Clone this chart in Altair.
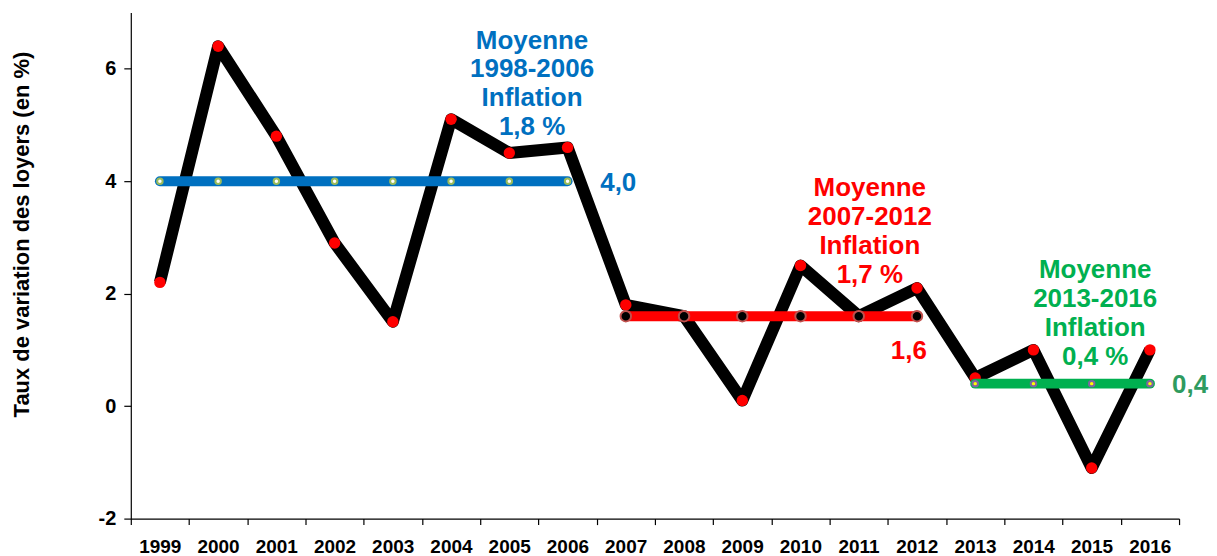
import altair as alt
import pandas as pd

# ---- data ----
years = list(range(1999, 2017))
rent_change = [2.2, 6.4, 4.8, 2.9, 1.5, 5.1, 4.5, 4.6, 1.8, 1.6, 0.1, 2.5, 1.6, 2.1, 0.5, 1.0, -1.1, 1.0]

period_start = [1999, 2007, 2013]
period_end = [2006, 2012, 2016]
period_mean = [4.0, 1.6, 0.4]
period_label = ["1998-2006", "2007-2012", "2013-2016"]
period_inflation = ["1,8 %", "1,7 %", "0,4 %"]
mean_text = ["4,0", "1,6", "0,4"]

# annotation anchors (data units; first text line)
title_x = [2005.39, 2011.19, 2015.06]
title_y = [6.50, 3.876, 2.418]
value_x = [2006.87, 2011.86, 2016.69]
value_y = [3.96, 0.98, 0.38]

# ---- styles ----
FONT = "Liberation Sans"
line_colors = ["#0070C0", "#FF0000", "#00B050"]
value_colors = ["#0070C0", "#FF0000", "#2E9B5F"]
marker_fill = ["#FFFFFF", "#000000", "#FFFF00"]
marker_stroke = ["#9BBB59", "#C0504D", "#8064A2"]
marker_size = [30, 110, 30]

df = pd.DataFrame({"year": years, "value": rent_change})

x_scale = alt.Scale(domain=[1998.5, 2016.5], nice=False, zero=False)
y_scale = alt.Scale(domain=[-2, 7], nice=False, zero=False)

x_axis = alt.Axis(
    values=[y - 0.5 for y in years] + [years[-1] + 0.5],
    labelExpr="datum.value < 2016 ? format(datum.value + 0.5, 'd') : ''",
    labelOffset=29,
    labelPadding=13,
    tickSize=6,
    grid=False,
    title=None,
    labelFontSize=19,
    labelOverlap=False,
    labelFlush=False,
)
y_axis = alt.Axis(
    values=[-2, 0, 2, 4, 6],
    labelExpr="datum.value < 0 ? '-' + format(-datum.value, 'd') : format(datum.value, 'd')",
    tickSize=7,
    labelPadding=8,
    grid=False,
    title="Taux de variation des loyers  (en %)",
    titleFontSize=22,
    titleX=-109,
    titleY=222,
    titleAngle=270,
    titleAlign="center",
    titleBaseline="middle",
    labelFontSize=20,
)

X = alt.X("year:Q", scale=x_scale, axis=x_axis)
Y = alt.Y("value:Q", scale=y_scale, axis=y_axis)

main_line = alt.Chart(df).mark_line(
    color="black", strokeWidth=12, strokeJoin="round"
).encode(x=X, y=Y)

main_pts = alt.Chart(df).mark_circle(color="#FF0000", size=130, opacity=1).encode(
    x=alt.X("year:Q", scale=x_scale), y=alt.Y("value:Q", scale=y_scale)
)

layers = [main_line, main_pts]

for i in range(3):
    yrs = [y for y in years if period_start[i] <= y <= period_end[i]]
    dm = pd.DataFrame({"year": yrs, "value": [period_mean[i]] * len(yrs)})
    layers.append(
        alt.Chart(dm).mark_line(color=line_colors[i], strokeWidth=10, strokeCap="round").encode(
            x=alt.X("year:Q", scale=x_scale), y=alt.Y("value:Q", scale=y_scale)
        )
    )
    layers.append(
        alt.Chart(dm).mark_point(
            filled=True, fill=marker_fill[i], stroke=marker_stroke[i], strokeWidth=2,
            size=marker_size[i], opacity=1, shape="circle"
        ).encode(x=alt.X("year:Q", scale=x_scale), y=alt.Y("value:Q", scale=y_scale))
    )
    da = pd.DataFrame({
        "x": [title_x[i]], "y": [title_y[i]],
        "t": ["Moyenne\n" + period_label[i] + "\nInflation\n" + period_inflation[i]],
    })
    layers.append(
        alt.Chart(da).mark_text(
            font=FONT, fontSize=26, fontWeight="bold", color=line_colors[i],
            lineBreak="\n", lineHeight=29, align="center", baseline="middle"
        ).encode(x=alt.X("x:Q", scale=x_scale), y=alt.Y("y:Q", scale=y_scale), text="t:N")
    )
    dv = pd.DataFrame({"x": [value_x[i]], "y": [value_y[i]], "t": [mean_text[i]]})
    layers.append(
        alt.Chart(dv).mark_text(
            font=FONT, fontSize=26, fontWeight="bold", color=value_colors[i],
            align="center", baseline="middle"
        ).encode(x=alt.X("x:Q", scale=x_scale), y=alt.Y("y:Q", scale=y_scale), text="t:N")
    )

chart = alt.layer(*layers).properties(
    width=1050,
    height=507,
    autosize=alt.AutoSizeParams(type="none"),
    padding={"left": 123, "top": 4, "right": 30, "bottom": 37},
).configure_view(stroke=None).configure_axis(
    domainColor="black",
    domainWidth=1.2,
    tickColor="black",
    tickWidth=1.2,
    labelColor="black",
    labelFont=FONT,
    labelFontWeight="bold",
    titleFont=FONT,
    titleFontWeight="bold",
    titleColor="black",
)

chart.save("out.html", embed_options={"renderer": "svg", "actions": False})
